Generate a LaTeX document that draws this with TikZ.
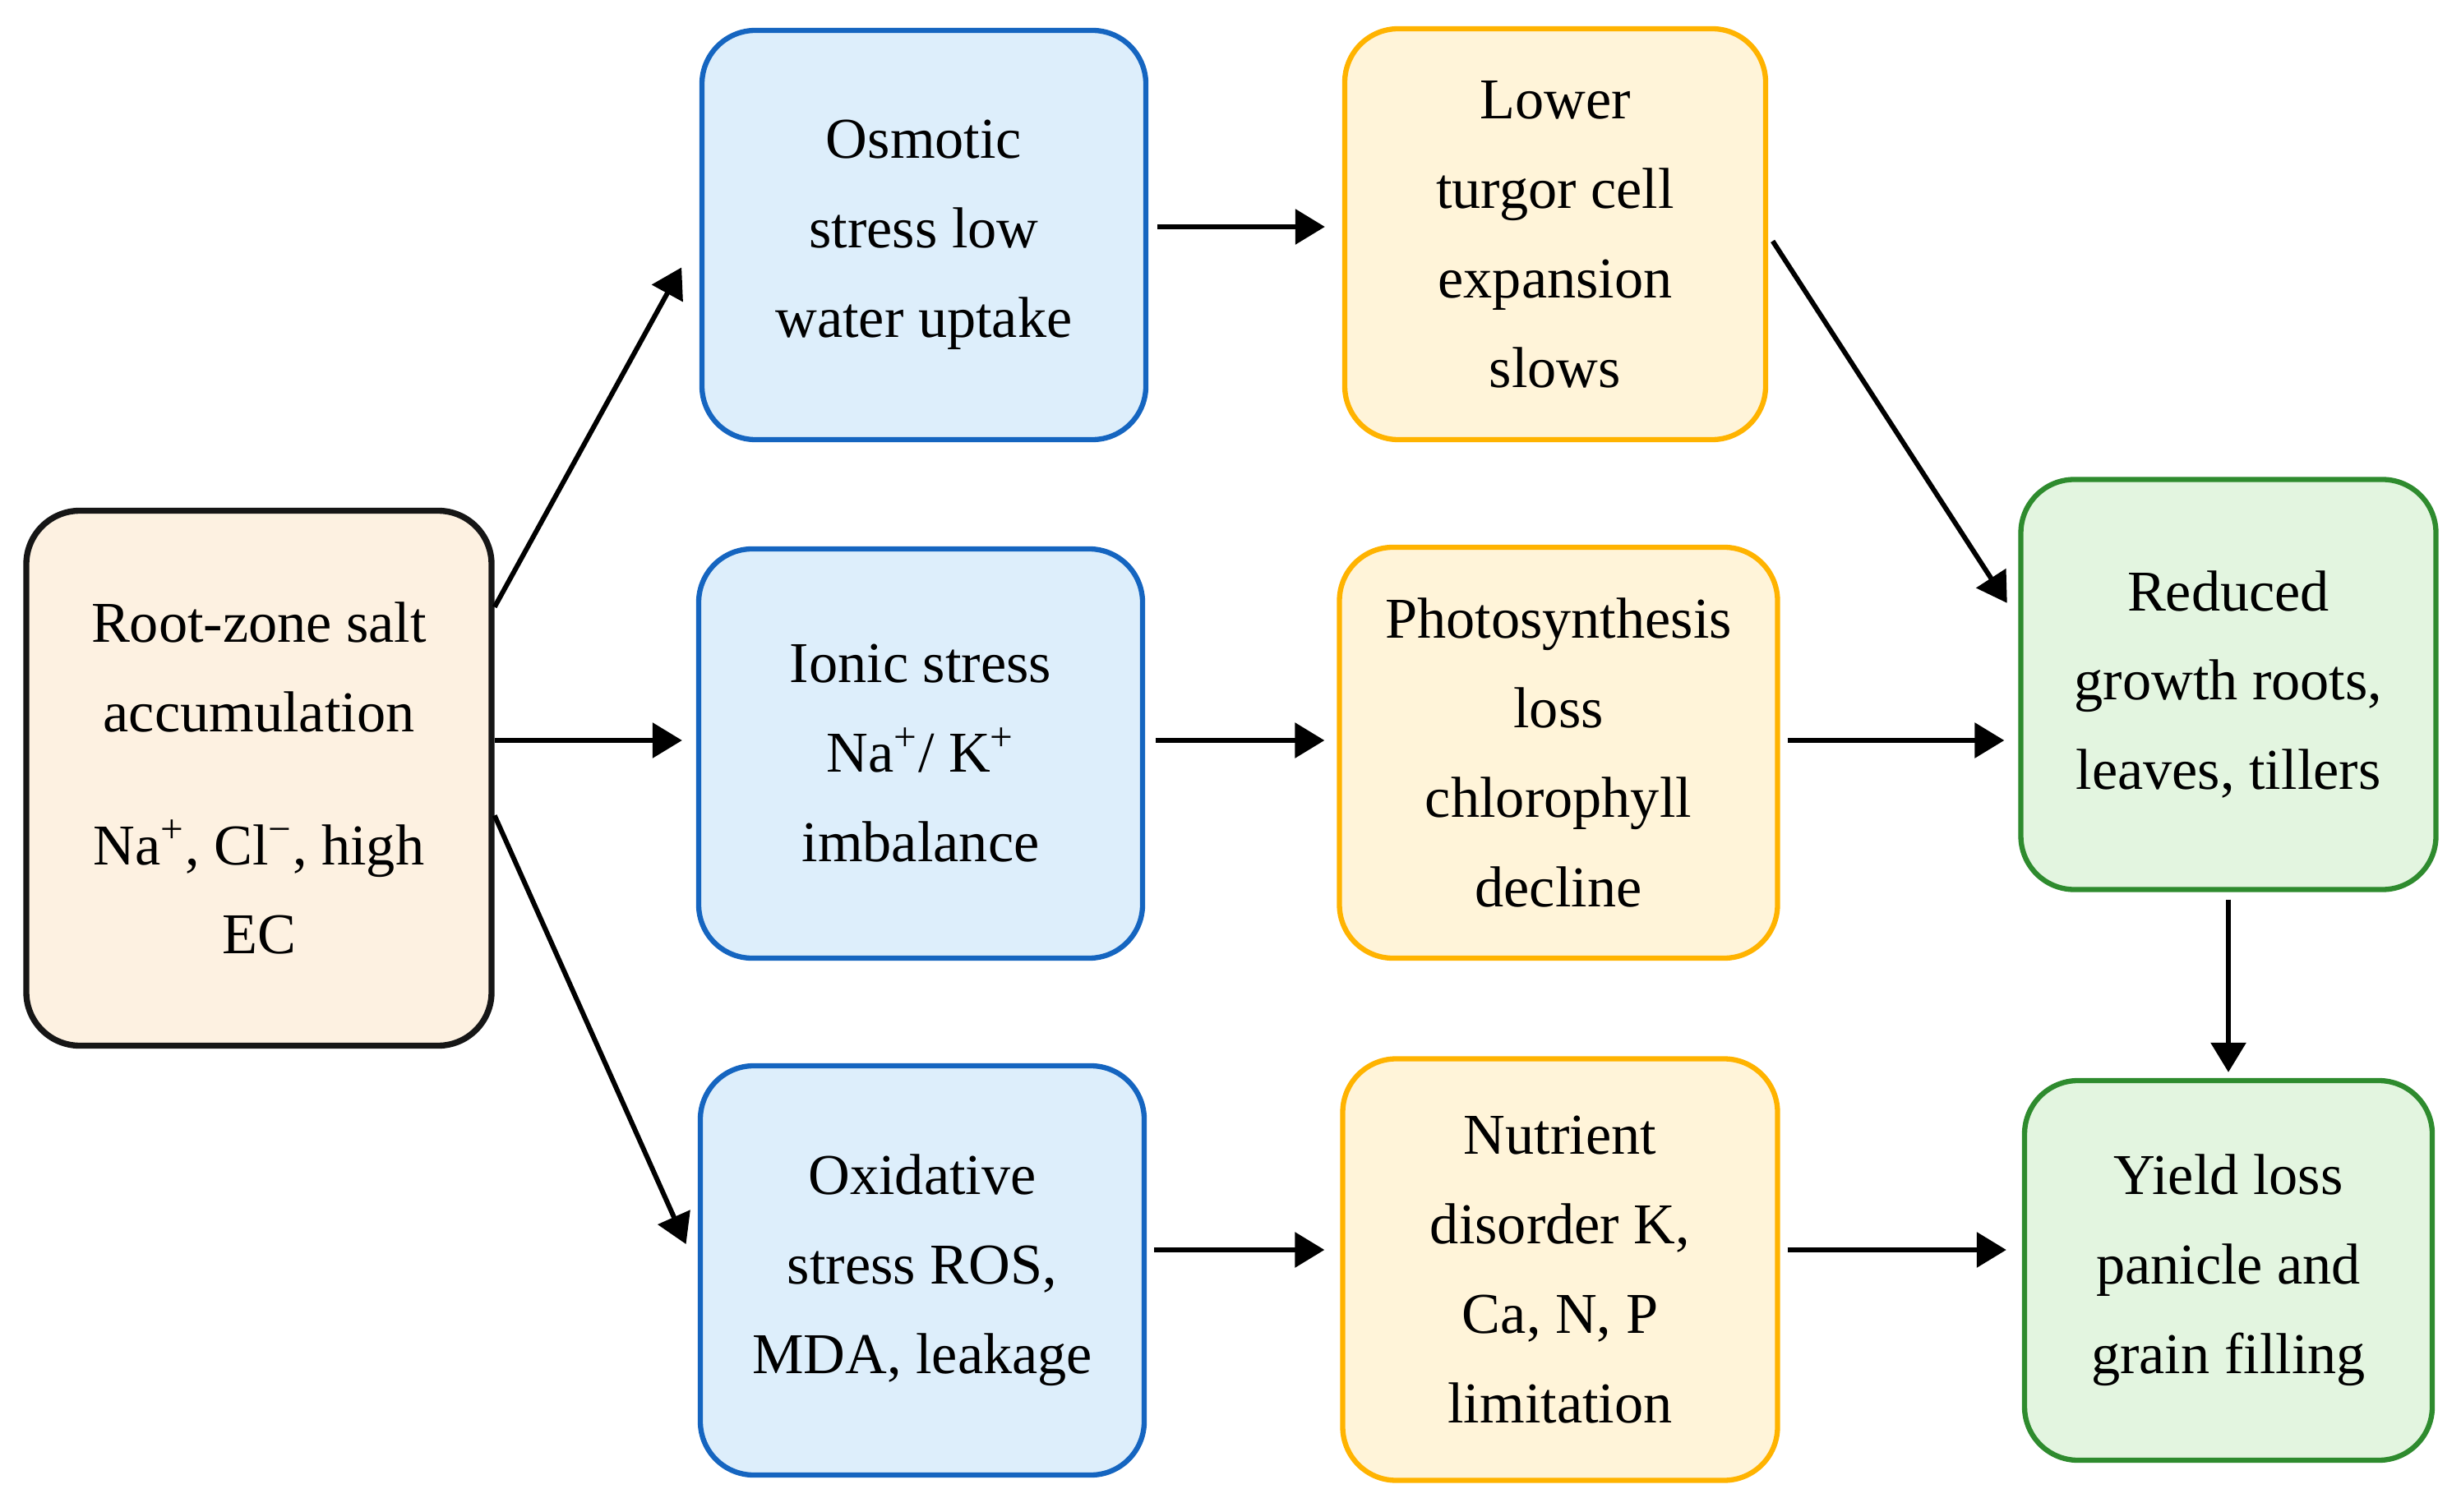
\documentclass[tikz,border=0pt]{standalone}
\usepackage{fontspec}
\setmainfont{Liberation Serif}
\usetikzlibrary{arrows.meta}
\definecolor{rootfill}{HTML}{FDF1E1}
\definecolor{rootdraw}{HTML}{161616}
\definecolor{strfill}{HTML}{DDEEFB}
\definecolor{strdraw}{HTML}{1565C0}
\definecolor{efffill}{HTML}{FFF4D9}
\definecolor{effdraw}{HTML}{FFB300}
\definecolor{outfill}{HTML}{E3F5E0}
\definecolor{outdraw}{HTML}{2E8B2E}

\tikzset{
  box/.style={rectangle, rounded corners=0.65cm, line width=1.8pt, align=center,
    inner sep=0pt, font=\fontsize{20}{31}\selectfont},
  rootbox/.style={box, draw=rootdraw, fill=rootfill, line width=2.1pt,
    minimum width=5.66cm, minimum height=6.51cm},
  stressbox/.style={box, draw=strdraw, fill=strfill, minimum width=5.4cm, minimum height=4.98cm},
  effectbox/.style={box, draw=effdraw, fill=efffill, minimum width=5.3cm, minimum height=5cm},
  outbox/.style={box, draw=outdraw, fill=outfill, minimum width=5.05cm, minimum height=4.99cm},
  arr/.style={-{Triangle[length=3.6mm,width=4.2mm]}, line width=1.7pt, black},
}

\begin{document}
\begin{tikzpicture}
    \useasboundingbox (0,0) rectangle (29.94,-18.40);
    % cause
    \node[rootbox] (root) at (3.15,-9.47)
      {Root-zone salt\\accumulation\\[0.53cm]Na\textsuperscript{+}, Cl\textsuperscript{−}, high\\EC};
    % stresses
    \node[stressbox] (osm) at (11.24,-2.86) {Osmotic\\stress low\\water uptake};
    \node[stressbox] (ion) at (11.20,-9.17) {Ionic stress\\Na\textsuperscript{+}/ K\textsuperscript{+}\\imbalance};
    \node[stressbox] (oxi) at (11.22,-15.46) {Oxidative\\stress ROS,\\MDA, leakage};
    % effects
    \node[effectbox, minimum width=5.12cm] (tur) at (18.92,-2.85) {Lower\\turgor cell\\expansion\\slows};
    \node[effectbox, minimum width=5.33cm] (pho) at (18.96,-9.16) {Photosynthesis\\loss\\chlorophyll\\decline};
    \node[effectbox, minimum width=5.29cm, minimum height=5.13cm] (nut) at (18.98,-15.45) {Nutrient\\disorder K,\\Ca, N, P\\limitation};
    % outcomes
    \node[outbox] (red) at (27.11,-8.33) {Reduced\\growth roots,\\leaves, tillers};
    \node[outbox, minimum width=4.96cm, minimum height=4.62cm] (yie) at (27.11,-15.46) {Yield loss\\panicle and\\grain filling};

    \draw[arr, shorten >=0.45cm] (root.36) -- (osm.west);
    \draw[arr, shorten >=0.17cm] ([yshift=1.6mm]root.east |- ion.west) -- ([yshift=1.6mm]ion.west);
    \draw[arr, shorten >=0.35cm] (root.-9) -- (oxi.west);

    \draw[arr, shorten <=0.11cm, shorten >=0.21cm] ([yshift=1mm]osm.east) -- ([yshift=1mm]osm.east -| tur.west);
    \draw[arr, shorten <=0.13cm, shorten >=0.15cm] ([yshift=1.6mm]ion.east) -- ([yshift=1.6mm]ion.east -| pho.west);
    \draw[arr, shorten <=0.09cm, shorten >=0.19cm] ([yshift=2.5mm]oxi.east) -- ([yshift=2.5mm]oxi.east -| nut.west);

    \draw[arr, shorten <=0.1cm, shorten >=0.25cm] (tur.east) -- (red.163);
    \draw[arr, shorten <=0.09cm, shorten >=0.17cm] ([yshift=1.5mm]pho.east) -- ([yshift=1.5mm]pho.east -| red.west);
    \draw[arr, shorten <=0.09cm, shorten >=0.07cm] (red.south) -- (yie.north);
    \draw[arr, shorten <=0.09cm, shorten >=0.19cm] ([yshift=2.4mm]nut.east) -- ([yshift=2.4mm]nut.east -| yie.west);
\end{tikzpicture}
\end{document}
